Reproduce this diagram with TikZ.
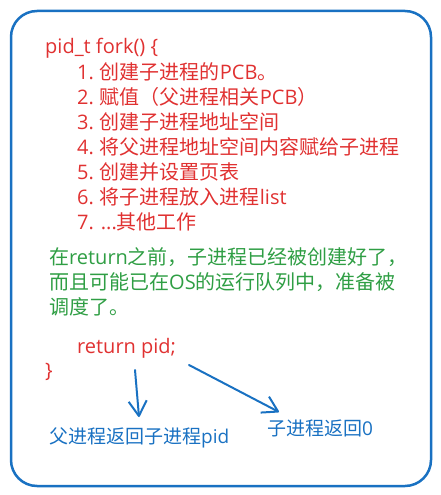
\documentclass[tikz,border=0pt]{standalone}
\usepackage{fontspec}
\setmainfont{Noto Sans CJK SC}
\newfontfamily\latfont{Open Sans}
\newcommand{\lt}[1]{{\latfont #1}}
\usetikzlibrary{arrows.meta}
\definecolor{xred}{HTML}{E03131}
\definecolor{xgreen}{HTML}{2F9E44}
\definecolor{xblue}{HTML}{1971C2}
\begin{document}
\begin{tikzpicture}[x=1pt,y=-1pt,
  codeline/.style={anchor=west, inner sep=0pt, text=xred, font=\fontsize{20}{20}\selectfont},
  noteline/.style={anchor=west, inner sep=0pt, text=xgreen, font=\fontsize{20}{20}\selectfont},
  bluelabel/.style={anchor=west, inner sep=0pt, text=xblue, font=\fontsize{19}{19}\selectfont},
  handarrow/.style={draw=xblue, line width=2pt, line cap=round, -{Straight Barb[length=15pt,width=18pt,line join=round]}}]
\useasboundingbox (0,0) rectangle (441,495);
\draw[xblue, line width=2.5pt, rounded corners=26pt] (11,11) rectangle (431,486);
\node[codeline] (head) at (45,48) {\lt{pid\_t fork() \{}};
\node[codeline] (s1) at (77,72) {\lt{1.} 创建子进程的\lt{PCB}。};
\node[codeline] (s2) at (77,97) {\lt{2.} 赋值（父进程相关\lt{PCB}）};
\node[codeline] (s3) at (77,122) {\lt{3.} 创建子进程地址空间};
\node[codeline] (s4) at (77,147) {\lt{4.} 将父进程地址空间内容赋给子进程};
\node[codeline] (s5) at (77,172) {\lt{5.} 创建并设置页表};
\node[codeline] (s6) at (77,197) {\lt{6.} 将子进程放入进程\lt{list}};
\node[codeline] (s7) at (77,222) {\lt{7. ...}其他工作};
\node[noteline] (n1) at (49,257) {在\lt{return}之前，子进程已经被创建好了，};
\node[noteline] (n2) at (49,282) {而且可能已在\lt{OS}的运行队列中，准备被};
\node[noteline] (n3) at (49,307) {调度了。};
\node[codeline] (ret) at (77,348) {\lt{return pid;}};
\node[codeline] (close) at (45,372) {\lt{\}}};
\node[bluelabel] (parent) at (49,438) {父进程返回子进程\lt{pid}};
\node[bluelabel] (child) at (267,428) {子进程返回\lt{0}};
\coordinate (a1s) at (135,370);
\coordinate (a1e) at (139,417);
\coordinate (a2s) at (189,365);
\coordinate (a2e) at (279,412);
\draw[handarrow] (a1s) -- (a1e);
\draw[handarrow] (a2s) -- (a2e);
\end{tikzpicture}
\end{document}
